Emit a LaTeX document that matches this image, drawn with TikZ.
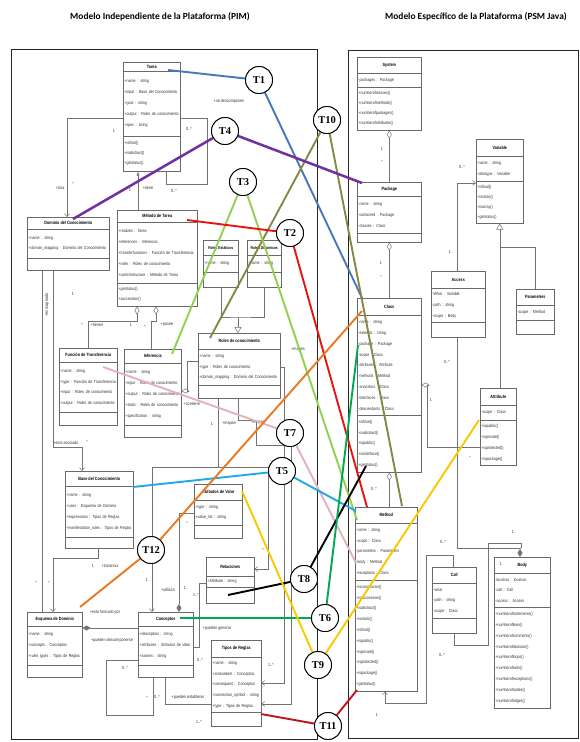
\documentclass[tikz,border=0pt]{standalone}
\usepackage{fontspec}
\setmainfont{Liberation Sans}
\newfontfamily\nsans[FakeStretch=0.82]{Liberation Sans}
\newfontfamily\tserif{Liberation Serif}
\newfontfamily\ttitle{Carlito}
\usetikzlibrary{arrows.meta}
\definecolor{boxc}{RGB}{105,105,105}
\definecolor{linec}{RGB}{115,115,115}
\definecolor{txtc}{RGB}{50,50,50}
\definecolor{cblue}{RGB}{70,120,190}
\definecolor{colive}{RGB}{135,135,70}
\definecolor{cpurple}{RGB}{112,48,160}
\definecolor{clgreen}{RGB}{146,208,80}
\definecolor{cred}{RGB}{232,20,20}
\definecolor{cpink}{RGB}{228,178,185}
\definecolor{ccyan}{RGB}{30,170,230}
\definecolor{corange}{RGB}{235,120,30}
\definecolor{cgreen}{RGB}{0,168,80}
\definecolor{cyellow}{RGB}{250,200,0}
\definecolor{cdred}{RGB}{190,20,30}
\tikzset{
  hdr/.style={draw=boxc, line width=0.55pt, fill=white, anchor=north west, inner sep=0pt,
    align=center, text=black, font={\nsans\bfseries\fontsize{4.6}{5}\selectfont}},
  sec/.style={draw=boxc, line width=0.55pt, fill=white, anchor=north west, inner xsep=1.2pt,
    inner ysep=0pt, align=left, text=txtc},
  assoc/.style={draw=linec, line width=0.5pt},
  ml/.style={font={\nsans\fontsize{4.5}{5}\selectfont}, inner sep=0.5pt, text=txtc},
  tc/.style={circle, draw=black, line width=0.9pt, fill=white, minimum size=27pt, inner sep=0pt,
    font={\tserif\bfseries\fontsize{10.5}{12}\selectfont}},
  tl/.style={line width=1.9pt},
  obarb/.tip={Straight Barb[length=3pt,width=5pt]},
  odia/.tip={Diamond[open,length=8pt,width=5pt]},
  fdia/.tip={Diamond[length=8pt,width=5pt]},
  otri/.tip={Triangle[open,length=6pt,width=7pt]}
}
\newcommand\umlh[6]{\node[hdr, minimum width=#4pt, minimum height=#5pt] (#1) at (#2,#3) {#6};}
\newcommand\umls[7]{\node[sec, text width={\dimexpr #4pt-2.4pt\relax}, minimum height=#5pt,
  font={\nsans\fontsize{4.4}{#6}\selectfont}] (#1) at (#2,#3) {#7};}
\begin{document}
\begin{tikzpicture}[x=1pt,y=-1pt]
\useasboundingbox (0,0) rectangle (580,742);
\fill[white] (0,0) rectangle (580,742);
% titles
\node[font={\ttitle\bfseries\fontsize{9.4}{11}\selectfont}] (title1) at (160,17) {Modelo Independiente de la Plataforma (PIM)};
\node[font={\ttitle\bfseries\fontsize{9.4}{11}\selectfont}] (title2) at (476,17) {Modelo Específico de la Plataforma (PSM Java)};
% frames
\draw[black!85, line width=1pt] (11,49) rectangle (317,739);
\draw[black!85, line width=1pt] (348,50) rectangle (578,738);

% ---------- PIM classes ----------
\umlh{taH}{123}{62}{57}{9}{Tarea}
\umls{taA}{123}{71}{57}{65}{11}{+name : string\\+input : Base del Conocimiento\\+goal : string\\+output : Roles de conocimiento\\+spec : string}
\umls{taM}{123}{136}{57}{35}{10}{+isfinal()\\+isabstract()\\+getstatus()}

\umlh{doH}{27}{217}{82}{12}{Dominio del Conocimiento}
\umls{doA}{27}{229}{82}{29}{10}{+name : string\\+domain\_mapping : Dominio del Conocimiento}
\umls{doM}{27}{258}{82}{12}{10}{}

\umlh{meH}{117}{210}{80}{12}{Método de Tarea}
\umls{meA}{117}{222}{80}{61}{11}{+realizes : Tarea\\+inferences : Inferencia\\+transferfunctions : Función de Transferencia\\+roles : Roles de conocimiento\\+controlstructure : Método de Tarea}
\umls{meM}{117}{283}{80}{23}{10}{+getstatus()\\+succession()}

\node[hdr, minimum width=35pt, minimum height=15pt, font={\nsans\bfseries\fontsize{4.1}{5}\selectfont}] (reH) at (203,240) {Roles Estáticos};
\umls{reA}{203}{255}{35}{17}{10}{+name : string}
\umls{reM}{203}{272}{35}{15}{10}{}

\node[hdr, minimum width=34pt, minimum height=15pt, font={\nsans\bfseries\fontsize{4.1}{5}\selectfont}] (rdH) at (247,240) {Roles Dinámicos};
\umls{rdA}{247}{255}{34}{17}{10}{+name : string}
\umls{rdM}{247}{272}{34}{15}{10}{}

\umlh{rcH}{198}{333}{82}{16}{Roles de conocimiento}
\umls{rcA}{198}{349}{82}{36}{10.5}{+name : string\\+type : Roles de conocimiento\\+domain\_mapping : Dominio del Conocimiento}
\umls{rcM}{198}{385}{82}{13}{10}{}

\umlh{fuH}{59}{348}{58}{14}{Función de Transferencia}
\umls{fuA}{59}{362}{58}{50}{10.5}{+name : string\\+type : Función de Transferencia\\+input : Roles de conocimiento\\+output : Roles de conocimiento}
\umls{fuM}{59}{412}{58}{13}{10}{}

\umlh{inH}{124}{349}{57}{14}{Inferencia}
\umls{inA}{124}{363}{57}{62}{10.8}{+name : string\\+input : Roles de conocimiento\\+output : Roles de conocimiento\\+static : Roles de conocimiento\\+specification : string}
\umls{inM}{124}{425}{57}{12}{10}{}

\umlh{baH}{65}{471}{68}{15}{Base del Conocimiento}
\umls{baA}{65}{486}{68}{51}{11}{+name : string\\+uses : Esquema de Dominio\\+expressions : Tipos de Reglas\\+manifestation\_rules : Tipos de Reglas}
\umls{baM}{65}{537}{68}{11}{10}{}

\umlh{avH}{194}{484}{48}{16}{Atributos de Valor}
\umls{avA}{194}{500}{48}{25}{10}{+type : string\\+value\_list : string}
\umls{avM}{194}{525}{48}{13}{10}{}

\umlh{relH}{206}{557}{48}{19}{Relaciones}
\umls{relA}{206}{576}{48}{11}{10}{+Attribute : string}
\umls{relM}{206}{587}{48}{16}{10}{}

\umlh{esH}{27}{612}{55}{14}{Esquema de Dominio}
\umls{esA}{27}{626}{55}{39}{11}{+name : string\\+concepts : Conceptos\\+rules types : Tipos de Reglas}
\umls{esM}{27}{665}{55}{12}{10}{}

\umlh{coH}{138}{612}{55}{14}{Conceptos}
\umls{coA}{138}{626}{55}{39}{11}{+description : string\\+attributes : Atributos de Valor\\+axioms : string}
\umls{coM}{138}{665}{55}{12}{10}{}

\umlh{tiH}{211}{640}{50}{17}{Tipos de Reglas}
\umls{tiA}{211}{657}{50}{55}{10.6}{+name : string\\+antecedent : Conceptos\\+consequent : Conceptos\\+connection\_symbol : string\\+type : Tipos de Reglas}
\umls{tiM}{211}{712}{50}{14}{10}{}

% ---------- PSM classes ----------
\umlh{syH}{357}{57}{64}{16}{System}
\umls{syA}{357}{73}{64}{14}{10}{-packages : Package}
\umls{syM}{357}{87}{64}{43}{10}{+numberofclasses()\\+numberofmethods()\\+numberofpackages()\\+numberofattributes()}

\umlh{paH}{357}{182}{64}{14}{Package}
\umls{paA}{357}{196}{64}{37}{11}{-name : string\\-contained : Package\\-classes : Class}
\umls{paM}{357}{233}{64}{9}{10}{}

\umlh{clH}{357}{298}{64}{17}{Class}
\umls{clA}{357}{315}{64}{100}{10.8}{-name : string\\-extends : string\\-package : Package\\-scope : Class\\-attributes : Attribute\\-methods : Method\\-ancestors : Class\\-interfaces : Class\\-descendants : Class}
\umls{clM}{357}{415}{64}{57}{10.8}{+isfinal()\\+isabstract()\\+ispublic()\\+isinterface()\\+getstatus()}

\umlh{mtH}{355}{507}{62}{16}{Method}
\umls{mtA}{355}{523}{62}{57}{10.8}{-name : string\\-scope : Class\\-parameters : Parameters\\-body : Method\\-exceptions : Class}
\umls{mtM}{355}{580}{62}{111}{10.8}{+isconstructor()\\+issuccession()\\+isabstract()\\+isstatic()\\+isfinal()\\+ispublic()\\+isprivate()\\+isprotected()\\+ispackage()\\+getstatus()}

\umlh{vaH}{476}{139}{47}{17}{Variable}
\umls{vaA}{476}{156}{47}{25}{10.5}{-name : string\\-datatype : Variable}
\umls{vaM}{476}{181}{47}{42}{10}{+isfinal()\\+isstatic()\\+isarray()\\+getstatus()}

\umlh{acH}{431}{271}{54}{17}{Access}
\umls{acA}{431}{288}{54}{34}{10.8}{-What : Variable\\-path : string\\-scope : Body}
\umls{acM}{431}{322}{54}{15}{10}{}

\umlh{prH}{516}{289}{38}{16}{Parameters}
\umls{prA}{516}{305}{38}{15}{10}{-scope : Method}
\umls{prM}{516}{320}{38}{14}{10}{}

\umlh{atH}{480}{388}{36}{17}{Attribute}
\umls{atA}{480}{405}{36}{15}{10}{-scope : Class}
\umls{atM}{480}{420}{36}{45}{10.8}{+ispublic()\\+isprivate()\\+isprotected()\\+ispackage()}

\umlh{caH}{432}{567}{44}{16}{Call}
\umls{caA}{432}{583}{44}{35}{10.8}{-what\\-path : string\\-scope : Class}
\umls{caM}{432}{618}{44}{15}{10}{}

\umlh{boH}{494}{557}{56}{16}{Body}
\umls{boA}{494}{573}{56}{34}{10.8}{-localvar : localvar\\-call : Call\\-access : Access}
\umls{boM}{494}{607}{56}{101}{10.8}{+numberofstatements()\\+numberoflines()\\+numberofcomments()\\+numberofdecision()\\+numberofloops()\\+numberofexits()\\+numberofexceptions()\\+numberofnodes()\\+numberofedges()}

% ---------- PIM connectors ----------
\draw[assoc, obarb-] (doH.north -| 67,0) -- (67,118) -- (taA.west |- 0,118);
\draw[assoc] (taA.east |- 0,118) -- (207,118) -- (207,184) -- (166,184) -- (taM.south -| 166,0);
\draw[assoc, {Latex[length=4pt,width=3pt]}-] (taM.south -| 138,0) -- (meH.north -| 138,0);
\draw[assoc, odia-] (meM.south -| 137,0) -- (137,321) -- (88,321) -- (fuH.north -| 88,0);
\draw[assoc, odia-] (meM.south -| 156,0) -- (156,321) -- (151,321) -- (inH.north -| 151,0);
\coordinate (j1) at (238,317);
\draw[assoc] (reM.south) |- (j1) -| (rdM.south);
\draw[assoc, -otri] (j1) -- (rcH.north -| j1);
\draw[assoc, -odia] (rcA.west |- 0,361) -- (187,361) -- (187,391) -- (inA.east |- 0,391);
\draw[assoc, -obarb] (rcA.east |- 0,367) -- (284,367) -- (284,683) -- (tiA.east |- 0,683);
\draw[assoc, -obarb] (rcM.south -| 238,0) -- (238,420) -- (256,420) -- (256,445) -- (291,445) -- (291,704) -- (tiA.east |- 0,704);
\draw[assoc] (rcM.south -| 218,0) -- (218,467);
\draw[assoc, obarb-obarb] (relH.east |- 0,569) -- (268,569) -- (268,467) -- (152,467) -- (coH.north -| 152,0);
\draw[assoc, -fdia] (avA.west |- 0,513) -- (179,513) -- (coH.north -| 179,0);
\draw[assoc] (coA.east |- 0,647) -- (199,647) -- (199,583) -- (relA.west |- 0,583);
\draw[assoc] (coM.south -| 165,0) -- (165,704) -- (tiA.west |- 0,704);
\draw[assoc] (coM.south -| 153,0) -- (153,715) -- (106,715) -- (106,660) -- (coA.west |- 0,660);
\draw[assoc, fdia-] (esA.east |- 0,628) -- (coA.west |- 0,628);
\draw[assoc, -obarb] (doM.south -| 53,0) -- (53,447) -- (82,447) -- (baH.north -| 82,0);
\draw[assoc] (doM.south -| 42,0) -- (esH.north -| 42,0);
\draw[assoc, -obarb] (baM.south -| 98,0) -- (98,558) -- (53,558) -- (esH.north -| 53,0);

% ---------- PSM connectors ----------
\draw[assoc, odia-] (syM.south) -- (paH.north);
\draw[assoc, odia-] (paM.south) -- (clH.north);
\draw[assoc, odia-] (clM.south) -- (clM.south |- mtH.north);
\draw[assoc, odia-] (clA.east |- 0,385) -- (427,385) -- (427,447) -- (atM.west |- 0,447);
\draw[assoc, -obarb] (acH.north -| 457,0) -- (457,183) -- (vaM.west |- 0,183);
\coordinate (j2) at (vaM.south |- 0,247);
\draw[assoc, otri-] (vaM.south) -- (j2);
\draw[assoc] (atH.north -| j2) -- (j2) -- (535,247) -- (prH.north -| 535,0);
\draw[assoc, -fdia] (acM.south -| 457,0) -- (457,548) -- (520,548) -- (boH.north -| 520,0);
\draw[assoc] (caM.south -| 454,0) -- (454,645) -- (488,645) -- (488,543) -- (521,543) -- (521,548);
\draw[assoc, -obarb] (caH.north -| 453,0) -- (453,555) -- (426,555) -- (426,703) -- (385,703) -- (mtM.south -| 385,0);

% ---------- multiplicity / role labels ----------
\node[ml] (m1) at (60,188) {+Usa};
\node[ml] (m2) at (73,184) {*};
\node[ml] (m3) at (114,131) {1};
\node[ml] (m4) at (229,101) {+se descomponen};
\node[ml] (m5) at (189,129) {0..*};
\node[ml] (m6) at (174,191) {0..*};
\node[ml] (m7) at (148,188) {+tiene};
\node[ml] (m8) at (130,190) {1};
\node[ml] (m9) at (73,294) {1};
\node[ml, rotate=90] (m10) at (47,305) {+es mapeado};
\node[ml] (m11) at (82,325) {*};
\node[ml] (m12) at (97,325) {+tienen};
\node[ml] (m13) at (131,325) {1};
\node[ml] (m14) at (145,327) {*};
\node[ml] (m15) at (167,325) {+posee};
\node[ml, anchor=west] (m16) at (183,404) {+contiene};
\node[ml] (m17) at (298,350) {+mapea};
\node[ml] (m18) at (212,424) {1};
\node[ml] (m19) at (229,424) {+mapea};
\node[ml] (m20) at (258,423) {+mapea};
\node[ml] (m21) at (66,443) {+esta asociado};
\node[ml] (m22) at (87,442) {*};
\node[ml] (m23) at (187,523) {*};
\node[ml] (m24) at (263,550) {*};
\node[ml] (m25) at (93,566) {1};
\node[ml] (m26) at (110,566) {+instancia};
\node[ml] (m27) at (36,583) {*};
\node[ml] (m28) at (49,583) {*};
\node[ml] (m29) at (147,580) {1};
\node[ml] (m30) at (168,590) {+utilizan};
\node[ml] (m31) at (185,588) {1};
\node[ml] (m32) at (196,595) {1..*};
\node[ml] (m33) at (105,612) {+esta formado por};
\node[ml] (m34) at (217,628) {+pueden generar};
\node[ml] (m35) at (112,640) {+pueden descomponerse};
\node[ml] (m36) at (200,660) {0..*};
\node[ml] (m37) at (125,668) {0..*};
\node[ml] (m38) at (147,698) {*};
\node[ml] (m39) at (157,697) {0..*};
\node[ml] (m40) at (188,697) {+pueden establecer};
\node[ml] (m41) at (199,722) {1..*};
\node[ml] (m42) at (271,665) {1..*};
% PSM labels
\node[ml] (p1) at (382,149) {1};
\node[ml] (p2) at (382,162) {*};
\node[ml] (p3) at (381,263) {1};
\node[ml] (p4) at (381,277) {*};
\node[ml] (p5) at (374,489) {0..*};
\node[ml] (p6) at (431,400) {1};
\node[ml] (p7) at (447,362) {0..*};
\node[ml] (p8) at (470,458) {*};
\node[ml] (p9) at (450,252) {1};
\node[ml] (p10) at (462,167) {0..*};
\node[ml] (p11) at (513,532) {1};
\node[ml] (p12) at (443,542) {0..*};
\node[ml] (p13) at (442,655) {0..*};
\node[ml] (p14) at (377,715) {1};
\node[ml] (p15) at (501,564) {1};

% ---------- transformation lines ----------
\coordinate (a1) at (168,70);   \coordinate (b1) at (362,298);
\coordinate (a10) at (210,338); \coordinate (b10) at (402,506);
\coordinate (a4) at (73,219);   \coordinate (b4) at (362,183);
\coordinate (a3) at (172,354);  \coordinate (b3) at (357,520);
\coordinate (a2) at (187,220);  \coordinate (b2) at (367,507);
\coordinate (a7) at (103,367);  \coordinate (b7) at (356,563);
\coordinate (a5) at (133,487);  \coordinate (b5) at (356,511);
\coordinate (a12) at (80,607);  \coordinate (b12) at (362,311);
\coordinate (a8) at (228,595);  \coordinate (b8) at (366,466);
\coordinate (a6) at (180,618);  \coordinate (b6) at (358,345);
\coordinate (a9) at (242,491);  \coordinate (b9) at (479,420);
\coordinate (a11) at (261,714); \coordinate (b11) at (357,690);

\node[tc] (t1) at (259,80) {T1};
\node[tc] (t10) at (327,120) {T10};
\node[tc] (t4) at (225,131) {T4};
\node[tc] (t3) at (243,182) {T3};
\node[tc] (t2) at (290,233) {T2};
\node[tc] (t7) at (290,433) {T7};
\node[tc] (t5) at (282,471) {T5};
\node[tc] (t12) at (151,550) {T12};
\node[tc] (t8) at (304,579) {T8};
\node[tc] (t6) at (325,618) {T6};
\node[tc] (t9) at (318,665) {T9};
\node[tc] (t11) at (328,726) {T11};

\draw[tl, cblue] (a1) -- (t1) -- (b1);
\draw[tl, colive] (a10) -- (t10) -- (b10);
\draw[tl, cpurple, line width=2.5pt] (a4) -- (t4) -- (b4);
\draw[tl, clgreen] (a3) -- (t3) -- (b3);
\draw[tl, cred] (a2) -- (t2) -- (b2);
\draw[tl, cpink] (a7) -- (t7) -- (b7);
\draw[tl, ccyan] (a5) -- (t5) -- (b5);
\draw[tl, corange] (a12) -- (t12) -- (b12);
\draw[tl, black] (a8) -- (t8) -- (b8);
\draw[tl, cgreen] (a6) -- (t6) -- (b6);
\draw[tl, cyellow] (a9) -- (t9) -- (b9);
\draw[tl, cdred] (a11) -- (t11) -- (b11);

% circles again, on top of the lines
\foreach \n/\p/\t in {t1/{259,80}/T1, t10/{327,120}/T10, t4/{225,131}/T4, t3/{243,182}/T3,
  t2/{290,233}/T2, t7/{290,433}/T7, t5/{282,471}/T5, t12/{151,550}/T12, t8/{304,579}/T8,
  t6/{325,618}/T6, t9/{318,665}/T9, t11/{328,726}/T11}
  {\node[tc] (\n c) at (\p) {\t};}
\end{tikzpicture}
\end{document}
